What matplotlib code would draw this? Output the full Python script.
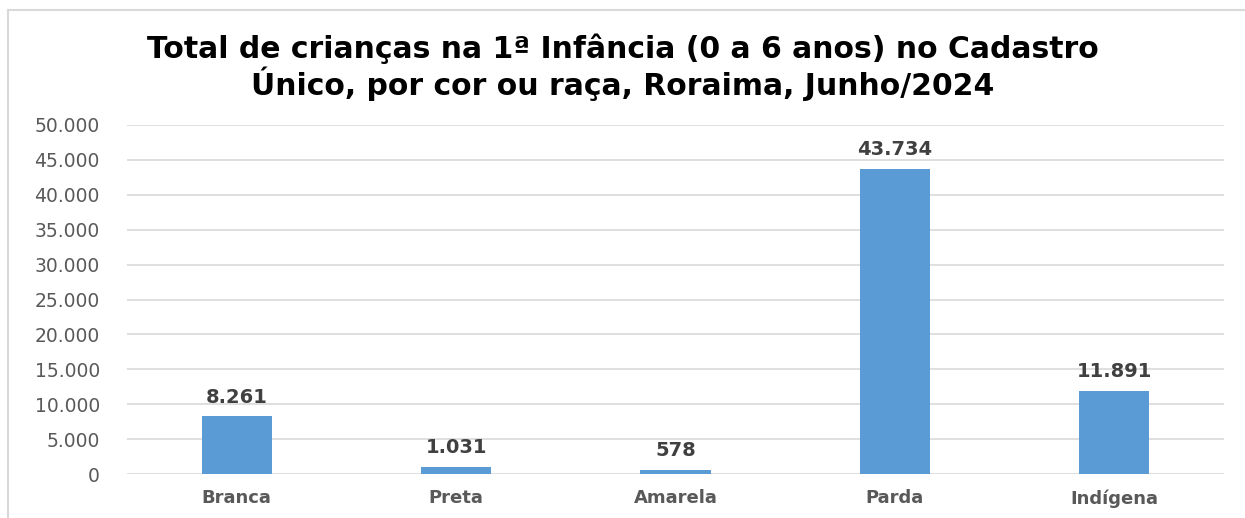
import matplotlib

matplotlib.use("Agg")

import matplotlib.pyplot as plt
from matplotlib.lines import Line2D
from matplotlib.ticker import FuncFormatter

categories = ["Branca", "Preta", "Amarela", "Parda", "Indígena"]
values = [8261, 1031, 578, 43734, 11891]
yticks = [0, 5000, 10000, 15000, 20000, 25000, 30000, 35000, 40000, 45000, 50000]

title = ("Total de crianças na 1ª Infância (0 a 6 anos) no Cadastro\n"
         "Único, por cor ou raça, Roraima, Junho/2024")

W, H = 1245, 518
plt.rcParams["font.family"] = ["DejaVu Sans"]


def br(v):
    # Brazilian thousands separator
    return f"{v:,.0f}".replace(",", ".")


fig = plt.figure(figsize=(W / 100, H / 100), dpi=100)
ax = fig.add_axes([127 / W, 1 - 474 / H, (1224 - 127) / W, (474 - 125) / H])

x = list(range(len(categories)))
bars = ax.bar(x, values, width=0.32, color="#5b9bd5", zorder=3)

for b, v in zip(bars, values):
    ax.annotate(br(v), (b.get_x() + b.get_width() / 2, v),
                xytext=(0, 7), textcoords="offset points",
                ha="center", va="bottom", fontsize=14, fontweight="bold",
                color="#404040")

ax.set_xlim(-0.5, len(categories) - 0.5)
ax.set_ylim(0, 50000)
ax.set_yticks(yticks)
ax.yaxis.set_major_formatter(FuncFormatter(lambda v, _: br(v)))
ax.set_xticks(x)
ax.set_xticklabels(categories, fontsize=13, fontweight="bold", color="#595959")
ax.tick_params(axis="y", labelsize=13.5, labelcolor="#595959", length=0, pad=19.5)
ax.tick_params(axis="x", length=0, pad=11)
ax.grid(axis="y", color="#d9d9d9", linewidth=1.2, zorder=0)
for s in ax.spines.values():
    s.set_visible(False)

fig.text(0.5, 1 - 33 / H, title, ha="center", va="top", fontsize=21.5,
         fontweight="bold", color="black", linespacing=1.12)

# outer chart frame (left and top edges visible)
fig.add_artist(Line2D([8 / W, 8 / W], [0, 1 - 10 / H], transform=fig.transFigure,
                      color="#d9d9d9", linewidth=1.5))
fig.add_artist(Line2D([8 / W, 1], [1 - 10 / H, 1 - 10 / H], transform=fig.transFigure,
                      color="#d9d9d9", linewidth=1.5))

fig.savefig("out.png", dpi=100)
